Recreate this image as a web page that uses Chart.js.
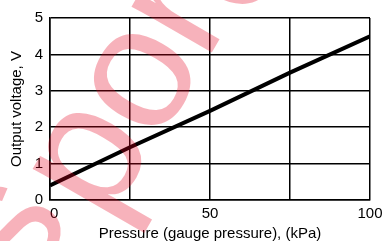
<!DOCTYPE html>
<html>
<head>
<meta charset="utf-8">
<script src="https://cdn.jsdelivr.net/npm/chart.js@4/dist/chart.umd.min.js"></script>
<style>
  html, body { margin: 0; padding: 0; background: #fff; }
  #wrap { width: 383px; height: 241px; }
</style>
</head>
<body>
<div id="wrap"><canvas id="chart" width="383" height="241"></canvas></div>
<script>
// data
const pressure = [0, 25, 50, 75, 100];
const voltage = [0.4, 1.45, 2.45, 3.5, 4.5];
const xTickLabels = ['  0', '', '50', '', '100'];
const yTickLabels = ['0', '1', '2', '3', '4', '5'];
const xTitle = 'Pressure (gauge pressure), (kPa)';
const yTitle = 'Output voltage, V';
// watermark letters, their centres and angles (only partly visible)
const wmChars = ['s', 'p', 'o', 'r', 'o'];
const wmX = [12, 92, 143, 181, 234];
const wmY = [232, 160, 80, 15, -41];
const wmAngle = [-60, -60, -60, -60, -60];

const font = 'Liberation Sans, Arial, Helvetica, sans-serif';

// pink watermark drawn over the chart
const watermarkPlugin = {
  id: 'watermark',
  afterDraw(chart) {
    const ctx = chart.ctx;
    const size = 175;
    ctx.save();
    ctx.font = size + 'px ' + font;
    ctx.fillStyle = 'rgba(230,0,30,0.3)';
    ctx.textAlign = 'center';
    ctx.textBaseline = 'alphabetic';
    wmChars.forEach((c, i) => {
      ctx.save();
      ctx.translate(wmX[i], wmY[i]);
      ctx.rotate(wmAngle[i] * Math.PI / 180);
      ctx.fillText(c, 0, size * 0.26);
      ctx.restore();
    });
    ctx.restore();
  }
};

new Chart(document.getElementById('chart'), {
  type: 'line',
  data: {
    datasets: [{
      data: pressure.map((p, i) => ({ x: p, y: voltage[i] })),
      borderColor: '#000',
      borderWidth: 4,
      pointRadius: 0,
      tension: 0,
      fill: false
    }]
  },
  options: {
    responsive: false,
    animation: false,
    layout: { padding: { top: 18, right: 13, left: 0, bottom: 0 } },
    plugins: { legend: { display: false }, tooltip: { enabled: false } },
    scales: {
      x: {
        type: 'linear',
        min: 0, max: 100,
        afterFit: (s) => {
          s.height = 41;
          // keep the plot edge fixed, the last label may run to the border
          s.paddingLeft = 0;
          s.paddingRight = 0;
        },
        ticks: {
          stepSize: 25,
          color: '#000',
          font: { family: font, size: 15 },
          padding: 5,
          maxRotation: 0,
          callback: (v) => xTickLabels[pressure.indexOf(v)] ?? ''
        },
        grid: { color: '#000', lineWidth: 1.5, drawTicks: false },
        border: { color: '#000', width: 1.5 },
        title: {
          display: true, text: xTitle, color: '#000',
          font: { family: font, size: 15, lineHeight: 1 }, padding: { top: 1, bottom: 0 }
        }
      },
      y: {
        min: 0, max: 5,
        afterFit: (s) => { s.width = 50; },
        ticks: {
          stepSize: 1,
          color: '#000',
          font: { family: font, size: 15 },
          padding: 7,
          callback: (v) => yTickLabels[v] ?? ''
        },
        grid: { color: '#000', lineWidth: 1.5, drawTicks: false },
        border: { color: '#000', width: 1.5 },
        title: {
          display: true, text: yTitle, color: '#000',
          font: { family: font, size: 15 }, padding: { top: 8, bottom: 0 }
        }
      }
    }
  },
  plugins: [watermarkPlugin]
});
</script>
</body>
</html>
